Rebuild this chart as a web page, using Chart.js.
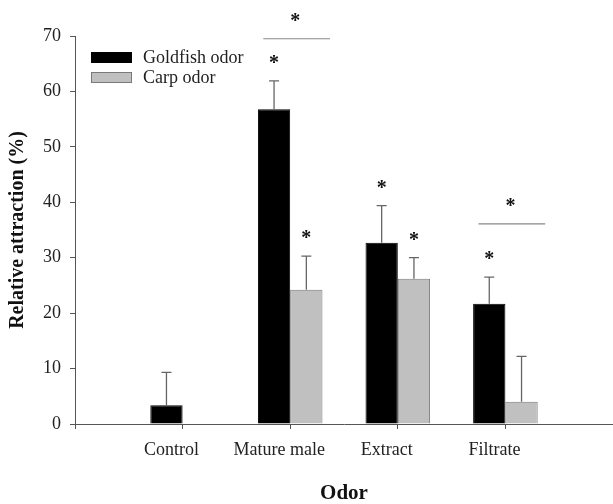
<!DOCTYPE html>
<html>
<head>
<meta charset="utf-8">
<script src="https://cdn.jsdelivr.net/npm/chart.js@4"></script>
<style>
  html, body { margin: 0; padding: 0; background: #fff; }
  #wrap { width: 613px; height: 504px; }
</style>
</head>
<body>
<div id="wrap"><canvas id="odorCanvas"></canvas></div>
<script>
const categories = ['Control', 'Mature male', 'Extract', 'Filtrate'];
const goldfish = [3.4, 56.8, 32.7, 21.7];
const goldfishErr = [5.9, 5.1, 6.7, 4.8];
const goldfishSig = [false, true, true, true];
const carp = [null, 24.2, 26.2, 4.0];
const carpErr = [null, 6.1, 3.8, 8.2];
const carpSig = [false, true, true, false];
// goldfish vs carp comparison brackets
const bracketCats = ['Mature male', 'Filtrate'];
const bracketValues = [69.5, 36.1];
const yTicks = [0, 10, 20, 30, 40, 50, 60, 70];

const serif = "'Liberation Serif', 'Times New Roman', serif";
const labels = ['', ...categories, ''];
const pad = arr => [null, ...arr, null];
const errs = [pad(goldfishErr), pad(carpErr)];
const sigs = [pad(goldfishSig), pad(carpSig)];

function star(ctx, x, y) {
  ctx.save();
  ctx.font = 'bold 20px ' + serif;
  ctx.fillStyle = '#111';
  ctx.textAlign = 'center';
  ctx.textBaseline = 'middle';
  ctx.fillText('*', x, y + 6);
  ctx.restore();
}

const extras = {
  id: 'extras',
  afterDatasetsDraw(chart) {
    const ctx = chart.ctx;
    const y = chart.scales.y;
    const x = chart.scales.x;
    ctx.save();
    chart.data.datasets.forEach((ds, di) => {
      const meta = chart.getDatasetMeta(di);
      meta.data.forEach((bar, i) => {
        const v = ds.data[i];
        const e = errs[di][i];
        if (v == null || e == null) return;
        const top = y.getPixelForValue(v);
        const cap = y.getPixelForValue(v + e);
        ctx.strokeStyle = '#666';
        ctx.lineWidth = 1.3;
        ctx.beginPath();
        ctx.moveTo(bar.x, top);
        ctx.lineTo(bar.x, cap);
        ctx.moveTo(bar.x - 5, cap);
        ctx.lineTo(bar.x + 5, cap);
        ctx.stroke();
        if (sigs[di][i]) star(ctx, bar.x, cap - 23);
      });
    });
    const step = x.getPixelForValue(1) - x.getPixelForValue(0);
    bracketCats.forEach((c, k) => {
      const cx = x.getPixelForValue(labels.indexOf(c));
      const by = y.getPixelForValue(bracketValues[k]);
      ctx.strokeStyle = '#888';
      ctx.lineWidth = 1.2;
      ctx.beginPath();
      ctx.moveTo(cx - step * 0.25, by);
      ctx.lineTo(cx + step * 0.37, by);
      ctx.stroke();
      star(ctx, cx + 5, by - 23);
    });

    // legend
    ctx.font = '18px ' + serif;
    ctx.textBaseline = 'middle';
    ctx.textAlign = 'left';
    chart.data.datasets.forEach((ds, di) => {
      const ly = 52 + di * 20;
      ctx.fillStyle = ds.backgroundColor;
      ctx.fillRect(91, ly, 41, 11);
      ctx.strokeStyle = ds.borderColor;
      ctx.lineWidth = 1;
      ctx.strokeRect(91.5, ly + 0.5, 40, 10);
      ctx.fillStyle = '#222';
      ctx.fillText(ds.label, 143, ly + 6);
    });
    ctx.restore();
  }
};

new Chart(document.getElementById('odorCanvas'), {
  type: 'bar',
  data: {
    labels: labels,
    datasets: [
      {
        label: 'Goldfish odor',
        data: pad(goldfish),
        backgroundColor: '#000000',
        borderColor: '#000000',
        borderWidth: 1
      },
      {
        label: 'Carp odor',
        data: pad(carp),
        backgroundColor: '#c0c0c0',
        borderColor: '#7a7a7a',
        borderWidth: 1
      }
    ]
  },
  options: {
    responsive: true,
    maintainAspectRatio: false,
    animation: false,
    categoryPercentage: 0.6,
    barPercentage: 1,
    layout: { padding: { top: 36, right: 0, left: 0, bottom: 0 } },
    plugins: {
      legend: { display: false },
      tooltip: { enabled: false }
    },
    scales: {
      x: {
        offset: false,
        afterFit: s => { s.height = 80; s.paddingRight = 0; s.paddingLeft = 0; },
        grid: {
          offset: false,
          drawOnChartArea: false,
          tickLength: 5,
          tickColor: c => (c.index === labels.length - 1 ? 'transparent' : '#555')
        },
        border: { color: '#555', width: 1 },
        ticks: {
          font: { family: serif, size: 18 },
          color: '#222',
          padding: 10,
          labelOffset: -11,
          maxRotation: 0,
          autoSkip: false
        },
        title: {
          display: true,
          text: 'Odor',
          font: { family: serif, size: 21, weight: 'bold', lineHeight: 1 },
          color: '#111',
          padding: { top: 0, bottom: 0 }
        }
      },
      y: {
        min: 0,
        max: 70,
        afterFit: s => { s.width = 75; },
        afterBuildTicks: s => { s.ticks = yTicks.map(v => ({ value: v })); },
        grid: {
          drawOnChartArea: false,
          tickLength: 5,
          tickColor: '#555'
        },
        border: { color: '#555', width: 1 },
        ticks: {
          font: { family: serif, size: 18 },
          color: '#222',
          padding: 9
        },
        title: {
          display: true,
          text: 'Relative attraction (%)',
          font: { family: serif, size: 20, weight: 'bold' },
          color: '#111',
          padding: { top: 6, bottom: 0 }
        }
      }
    }
  },
  plugins: [extras]
});
</script>
</body>
</html>
